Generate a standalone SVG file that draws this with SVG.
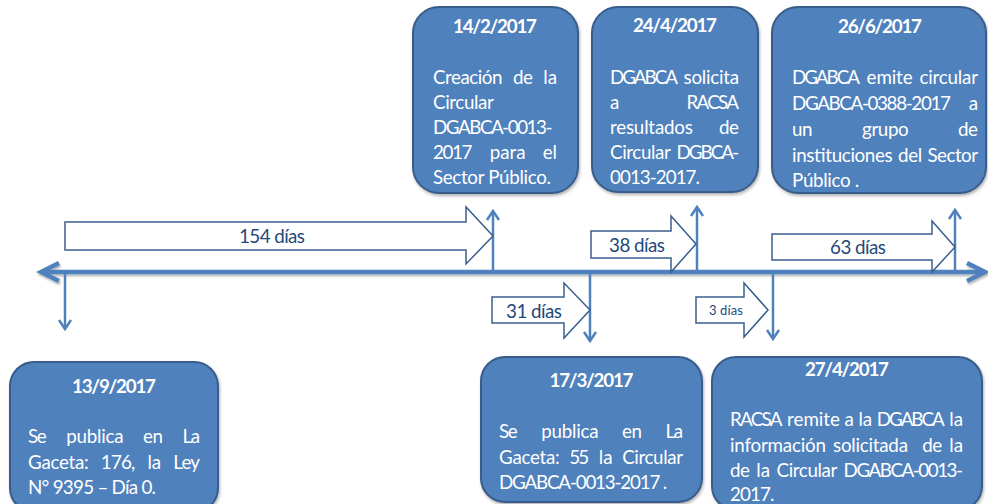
<svg xmlns="http://www.w3.org/2000/svg" width="988" height="504" viewBox="0 0 988 504">
<style>
.box{fill:#4F81BD;stroke:#385D8A;stroke-width:2;filter:url(#sh)}
.t{font-family:Lato,"Open Sans",sans-serif;fill:#fff;font-size:18.8px}
.h{font-weight:bold;text-anchor:middle}
.blk{fill:#fff;stroke:#3A5F8F;stroke-width:1.5;stroke-linejoin:miter}
.bl{font-family:Lato,"Open Sans",sans-serif;fill:#1F497D;font-size:18.8px;text-anchor:middle}
.tl{stroke:#4F81BD;stroke-width:4.5;fill:none;filter:url(#shl)}
.va{stroke:#4F81BD;stroke-width:2.5;fill:none}
</style>
<defs>
<filter id="sh" x="-5%" y="-5%" width="110%" height="120%">
<feDropShadow dx="1" dy="2" stdDeviation="1.5" flood-color="#000" flood-opacity="0.3"/>
</filter>
<filter id="shl" filterUnits="userSpaceOnUse" x="0" y="250" width="988" height="45">
<feDropShadow dx="1" dy="2" stdDeviation="1.2" flood-color="#000" flood-opacity="0.3"/>
</filter>
<marker id="big" markerUnits="userSpaceOnUse" viewBox="-2 -2 24 24" refX="18" refY="9" markerWidth="24" markerHeight="24" orient="auto-start-reverse" overflow="visible">
<path d="M0,0 L18,9 L0,18" fill="none" stroke="#4F81BD" stroke-width="4.5"/>
</marker>
<marker id="sm" markerUnits="userSpaceOnUse" viewBox="-2 -2 16 16" refX="9" refY="6" markerWidth="16" markerHeight="16" orient="auto" overflow="visible">
<path d="M0,0 L9,6 L0,12" fill="none" stroke="#4F81BD" stroke-width="2.5"/>
</marker>
</defs>
<rect width="988" height="504" fill="#fff"/>

<g id="connectors">
<line class="tl" x1="41" y1="272" x2="985" y2="272" marker-start="url(#big)" marker-end="url(#big)"/>
<line class="va" x1="65" y1="272" x2="65" y2="329" marker-end="url(#sm)"/>
<line class="va" x1="493" y1="272" x2="493" y2="211" marker-end="url(#sm)"/>
<line class="va" x1="590" y1="272" x2="590" y2="341" marker-end="url(#sm)"/>
<line class="va" x1="697" y1="272" x2="697" y2="207" marker-end="url(#sm)"/>
<line class="va" x1="773" y1="272" x2="773" y2="339" marker-end="url(#sm)"/>
<line class="va" x1="955" y1="272" x2="955" y2="210" marker-end="url(#sm)"/>
</g>

<g id="d154">
<path class="blk" d="M65,222 H466 V207 L493,236 L466,264 V250 H65 Z"/>
<text class="bl" x="272" y="243" textLength="66">154 días</text>
</g>
<g id="d38">
<path class="blk" d="M591,231 H671 V216 L696,244 L671,272 V258 H591 Z"/>
<text class="bl" x="637" y="252" textLength="56">38 días</text>
</g>
<g id="d63">
<path class="blk" d="M772,234 H932 V221 L955,247 L932,272 V260 H772 Z"/>
<text class="bl" x="858" y="254" textLength="56">63 días</text>
</g>
<g id="d31">
<path class="blk" d="M492,297 H564 V283 L590,310 L564,338 V323 H492 Z"/>
<text class="bl" x="534" y="318" textLength="56">31 días</text>
</g>
<g id="d3">
<path class="blk" d="M696,297 H744 V283 L768,310 L744,337 V323 H696 Z"/>
<text class="bl" x="726" y="315" style="font-size:13px" textLength="34">3 días</text>
</g>

<g id="n1">
<rect class="box" x="413" y="7" width="165" height="186" rx="26"/>
<text class="t h" x="495" y="33" textLength="84">14/2/2017</text>
<text class="t" y="84"><tspan x="433" textLength="69.5">Creación</tspan><tspan x="512.9" textLength="19.9">de</tspan><tspan x="543.2" textLength="13.8">la</tspan></text>
<text class="t" x="433" y="109" textLength="60.8">Circular</text>
<text class="t" x="433" y="134" textLength="119.4">DGABCA-0013-</text>
<text class="t" y="159"><tspan x="433" textLength="39.5">2017</tspan><tspan x="489.8" textLength="35.7">para</tspan><tspan x="542.8" textLength="14.2">el</tspan></text>
<text class="t" x="433" y="184" textLength="117.9">Sector Público.</text>
</g>

<g id="n2">
<rect class="box" x="592" y="7" width="166" height="185" rx="26"/>
<text class="t h" x="675" y="32" textLength="84">24/4/2017</text>
<text class="t" y="84"><tspan x="610" textLength="67.9">DGABCA</tspan><tspan x="683.6" textLength="55.4">solicita</tspan></text>
<text class="t" y="109"><tspan x="610" textLength="9.3">a</tspan><tspan x="686.5" textLength="52.5">RACSA</tspan></text>
<text class="t" y="134"><tspan x="610" textLength="82.9">resultados</tspan><tspan x="719.1" textLength="19.9">de</tspan></text>
<text class="t" y="159"><tspan x="610" textLength="60.8">Circular</tspan><tspan x="676.4" textLength="62.6">DGBCA-</tspan></text>
<text class="t" x="610" y="184" textLength="90">0013-2017.</text>
</g>

<g id="n3">
<rect class="box" x="772" y="7" width="214" height="186" rx="26"/>
<text class="t h" x="880" y="33" textLength="84">26/6/2017</text>
<text class="t" y="84"><tspan x="792" textLength="67.9">DGABCA</tspan><tspan x="866.6" textLength="46">emite</tspan><tspan x="919.4" textLength="58.6">circular</tspan></text>
<text class="t" y="110"><tspan x="792" textLength="158.9">DGABCA-0388-2017</tspan><tspan x="968.7" textLength="9.3">a</tspan></text>
<text class="t" y="136"><tspan x="792" textLength="20.5">un</tspan><tspan x="862" textLength="46.7">grupo</tspan><tspan x="958.1" textLength="19.9">de</tspan></text>
<text class="t" y="162"><tspan x="792" textLength="100.7">instituciones</tspan><tspan x="897.9" textLength="24.4">del</tspan><tspan x="927.5" textLength="50.5">Sector</tspan></text>
<text class="t" x="792" y="187" textLength="67.3">Público .</text>
</g>

<g id="n4">
<rect class="box" x="10" y="362" width="208" height="150" rx="24"/>
<text class="t h" x="114" y="393" textLength="84">13/9/2017</text>
<text class="t" y="443"><tspan x="28" textLength="18.7">Se</tspan><tspan x="66.3" textLength="57.2">publica</tspan><tspan x="143.1" textLength="19.9">en</tspan><tspan x="182.5" textLength="17.5">La</tspan></text>
<text class="t" y="469"><tspan x="28" textLength="60.7">Gaceta:</tspan><tspan x="100.8" textLength="34.5">176,</tspan><tspan x="147.4" textLength="13.8">la</tspan><tspan x="173.3" textLength="26.7">Ley</tspan></text>
<text class="t" x="28" y="494" textLength="128">N° 9395 – Día 0.</text>
</g>

<g id="n5">
<rect class="box" x="481" y="357" width="221" height="145" rx="24"/>
<text class="t h" x="591.5" y="387" textLength="84">17/3/2017</text>
<text class="t" y="438"><tspan x="499" textLength="18.7">Se</tspan><tspan x="541.3" textLength="57.2">publica</tspan><tspan x="622.1" textLength="19.9">en</tspan><tspan x="665.5" textLength="17.5">La</tspan></text>
<text class="t" y="464"><tspan x="499" textLength="60.7">Gaceta:</tspan><tspan x="569.3" textLength="19.8">55</tspan><tspan x="598.8" textLength="13.8">la</tspan><tspan x="622.2" textLength="60.8">Circular</tspan></text>
<text class="t" x="499" y="489" textLength="168.2">DGABCA-0013-2017 .</text>
</g>

<g id="n6">
<rect class="box" x="712" y="357" width="270" height="153" rx="24"/>
<text class="t h" x="847" y="376" textLength="84">27/4/2017</text>
<text class="t" y="426"><tspan x="730" textLength="52.5">RACSA</tspan><tspan x="787.1" textLength="52.8">remite</tspan><tspan x="844.5" textLength="9.3">a</tspan><tspan x="858.4" textLength="13.8">la</tspan><tspan x="876.8" textLength="67.9">DGABCA</tspan><tspan x="949.2" textLength="13.8">la</tspan></text>
<text class="t" y="452"><tspan x="730" textLength="95.9">información</tspan><tspan x="833" textLength="75">solicitada</tspan><tspan x="922.2" textLength="19.9">de</tspan><tspan x="949.2" textLength="13.8">la</tspan></text>
<text class="t" y="477"><tspan x="730" textLength="19.9">de</tspan><tspan x="756.3" textLength="13.8">la</tspan><tspan x="776.5" textLength="60.8">Circular</tspan><tspan x="843.6" textLength="119.4">DGABCA-0013-</tspan></text>
<text class="t" x="730" y="501" textLength="44.5">2017.</text>
</g>
</svg>
